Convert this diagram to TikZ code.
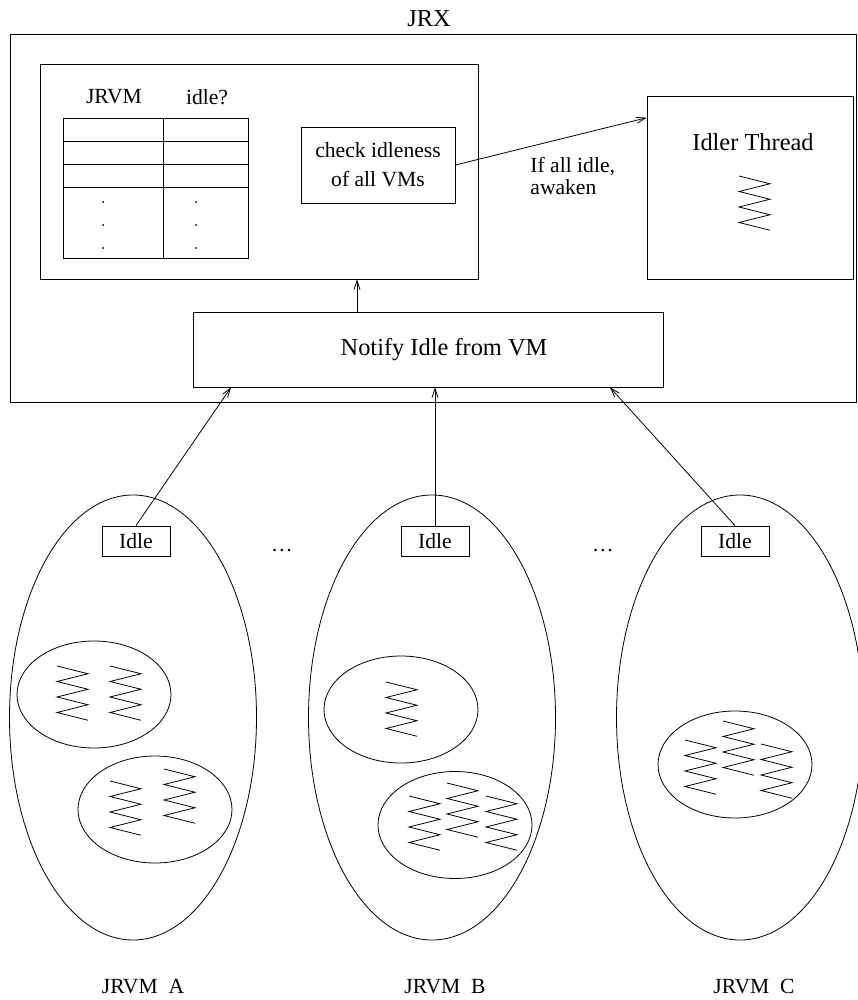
\documentclass[tikz,border=0pt]{standalone}
\usepackage{fontspec}
\setmainfont{Liberation Serif}
\usetikzlibrary{arrows.meta,shapes.geometric,fit}
\tikzset{thread/.pic={\draw (0,0) \foreach \k in {1,...,7}{--({31*mod(\k,2)},{7.75*\k})};}}
\begin{document}
\begin{tikzpicture}[x=.5pt, y=-.5pt, >={Straight Barb[length=4.5pt,width=3pt]},
  txt/.style={font=\fontsize{10.8}{13}\selectfont, inner sep=0pt},
  bigtxt/.style={font=\fontsize{12.2}{14}\selectfont, inner sep=0pt},
  panel/.style={draw, inner sep=0pt},
  vm/.style={draw, ellipse, inner sep=0pt, minimum width=123.5pt, minimum height=222.5pt},
  pool/.style={draw, ellipse, inner sep=0pt, minimum width=77pt, minimum height=53.5pt}]
\useasboundingbox (0,0) rectangle (857,1000);

% JRX side
\node[panel, fit={(10,34)(856,402)}] (jrx) {};
\node[bigtxt] (jrxlbl) at (429,19) {JRX};
\node[panel, fit={(40,64)(478,279)}] (vmtab) {};
\node[txt] (colvm) at (114,97) {JRVM};
\node[txt] (colidle) at (207,97) {idle?};
\draw (63,118) rectangle (248,258) (163,118)--(163,258);
\foreach \y in {141,164,187} \draw (63,\y)--(248,\y);
\foreach \y in {202,225,248}{\fill (103,\y) circle (.5pt); \fill (196,\y) circle (.5pt);}
\node[panel, txt, font=\fontsize{10.8}{14.5}\selectfont, align=center, minimum width=77pt, minimum height=38pt] (check) at (378,165) {check idleness\\of all VMs};
\node[panel, fit={(647,96)(853,279)}] (idler) {};
\node[bigtxt] (idlerlbl) at (753,142) {Idler Thread};
\pic at (739,176) {thread};
\draw[->] (check.east) -- (idler.146);
\node[txt, font=\fontsize{10.8}{11.3}\selectfont, align=left, anchor=west] (wake) at (530,176) {If all idle,\\awaken};
\node[panel, fit={(193,312)(663,387)}] (notify) {};
\node[bigtxt] (notifylbl) at (444,350) {Notify Idle from VM};
\draw[->] (notify.north -| 357,0) -- (vmtab.south -| 357,0);

% the three JRVMs
\node[vm] (jrvmA) at (133,717.5) {};
\node[vm] (jrvmB) at (432,717.5) {};
\node[vm] (jrvmC) at (740,717.5) {};
\node[panel, txt, minimum width=34pt, minimum height=15pt] (idleA) at (136,541) {Idle};
\node[panel, txt, minimum width=34pt, minimum height=15pt] (idleB) at (435,541) {Idle};
\node[panel, txt, minimum width=34pt, minimum height=15pt] (idleC) at (735,541) {Idle};
\node[txt] (gapAB) at (282,551) {\ldots};
\node[txt] (gapBC) at (603,551) {\ldots};
\draw[->] (idleA.north) -- (notify.south -| 231,0);
\draw[->] (idleB.north) -- (notify.south -| 435,0);
\draw[->] (idleC.north) -- (notify.south -| 610,0);

\node[pool] (poolA1) at (94,694.5) {};
\node[pool] (poolA2) at (155,809.5) {};
\node[pool] (poolB1) at (401,709.5) {};
\node[pool] (poolB2) at (455,825) {};
\node[pool] (poolC1) at (735,764.5) {};
\foreach \p in {(57,666),(110,666),(110,781),(164,769),(386,682),(409,796),(447,783),(486,796),(685,740),(723,721),(761,744)}
  \pic at \p {thread};

\node[txt] (nameA) at (143,987) {JRVM\ \ A};
\node[txt] (nameB) at (445,987) {JRVM\ \ B};
\node[txt] (nameC) at (754,987) {JRVM\ \ C};
\end{tikzpicture}
\end{document}
